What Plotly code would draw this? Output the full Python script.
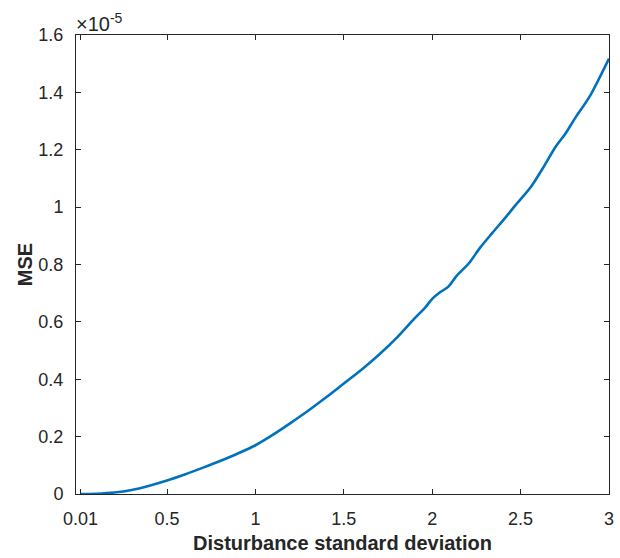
import plotly.graph_objects as go

# Disturbance standard deviation
sigma = [0.01, 0.1, 0.2, 0.3, 0.4, 0.5, 0.6, 0.7, 0.8, 0.9, 1.0, 1.1, 1.2, 1.3,
         1.4, 1.5, 1.6, 1.7, 1.8, 1.9, 1.96, 2.0, 2.044, 2.09, 2.14, 2.21, 2.27,
         2.34, 2.42, 2.47, 2.56, 2.63, 2.70, 2.75, 2.81, 2.89, 3.0]
# MSE in units of 1e-5
mse_e5 = [0.0, 0.001, 0.005, 0.014, 0.029, 0.047, 0.068, 0.091, 0.115, 0.141, 0.170,
          0.207, 0.248, 0.291, 0.337, 0.385, 0.433, 0.486, 0.545, 0.612, 0.650,
          0.680, 0.703, 0.722, 0.762, 0.806, 0.858, 0.910, 0.968, 1.006, 1.072,
          1.140, 1.212, 1.253, 1.312, 1.385, 1.518]

x_ticks = [0.01, 0.5, 1, 1.5, 2, 2.5, 3]
x_ticktext = ["0.01", "0.5", "1", "1.5", "2", "2.5", "3"]
y_ticks = [0, 0.2, 0.4, 0.6, 0.8, 1.0, 1.2, 1.4, 1.6]
y_ticktext = ["0", "0.2", "0.4", "0.6", "0.8", "1", "1.2", "1.4", "1.6"]

axis_col = "#262626"
font_family = "Arial, Liberation Sans, sans-serif"

fig = go.Figure()
fig.add_trace(go.Scatter(x=sigma, y=mse_e5, mode="lines",
                         line=dict(color="#0072BD", width=2.6, shape="spline",
                                   smoothing=0.8),
                         showlegend=False))

common = dict(showgrid=False, zeroline=False, showline=True, linecolor=axis_col,
              linewidth=1, mirror="ticks", ticks="inside", ticklen=5,
              tickcolor=axis_col, tickwidth=1,
              tickfont=dict(family=font_family, size=18, color=axis_col))

fig.update_layout(
    width=620, height=558,
    margin=dict(l=76, r=6, t=35, b=64),
    paper_bgcolor="white", plot_bgcolor="white",
    xaxis=dict(range=[-0.015, 3], tickvals=x_ticks, ticktext=x_ticktext,
               ticklabelstandoff=8,
               title=dict(text="<b>Disturbance standard deviation</b>", standoff=8,
                          font=dict(family=font_family, size=20, color=axis_col)),
               **common),
    yaxis=dict(range=[0, 1.6], tickvals=y_ticks, ticktext=y_ticktext,
               ticklabelstandoff=8,
               title=dict(text="<b>MSE</b>", standoff=0,
                          font=dict(family=font_family, size=20, color=axis_col)),
               **common),
    annotations=[dict(text="×10<sup>-5</sup>", xref="paper", yref="paper",
                      x=0, y=1, xanchor="left", yanchor="bottom", showarrow=False,
                      xshift=-2, yshift=-2,
                      font=dict(family=font_family, size=20, color=axis_col))],
)

fig.write_html("out.html")
